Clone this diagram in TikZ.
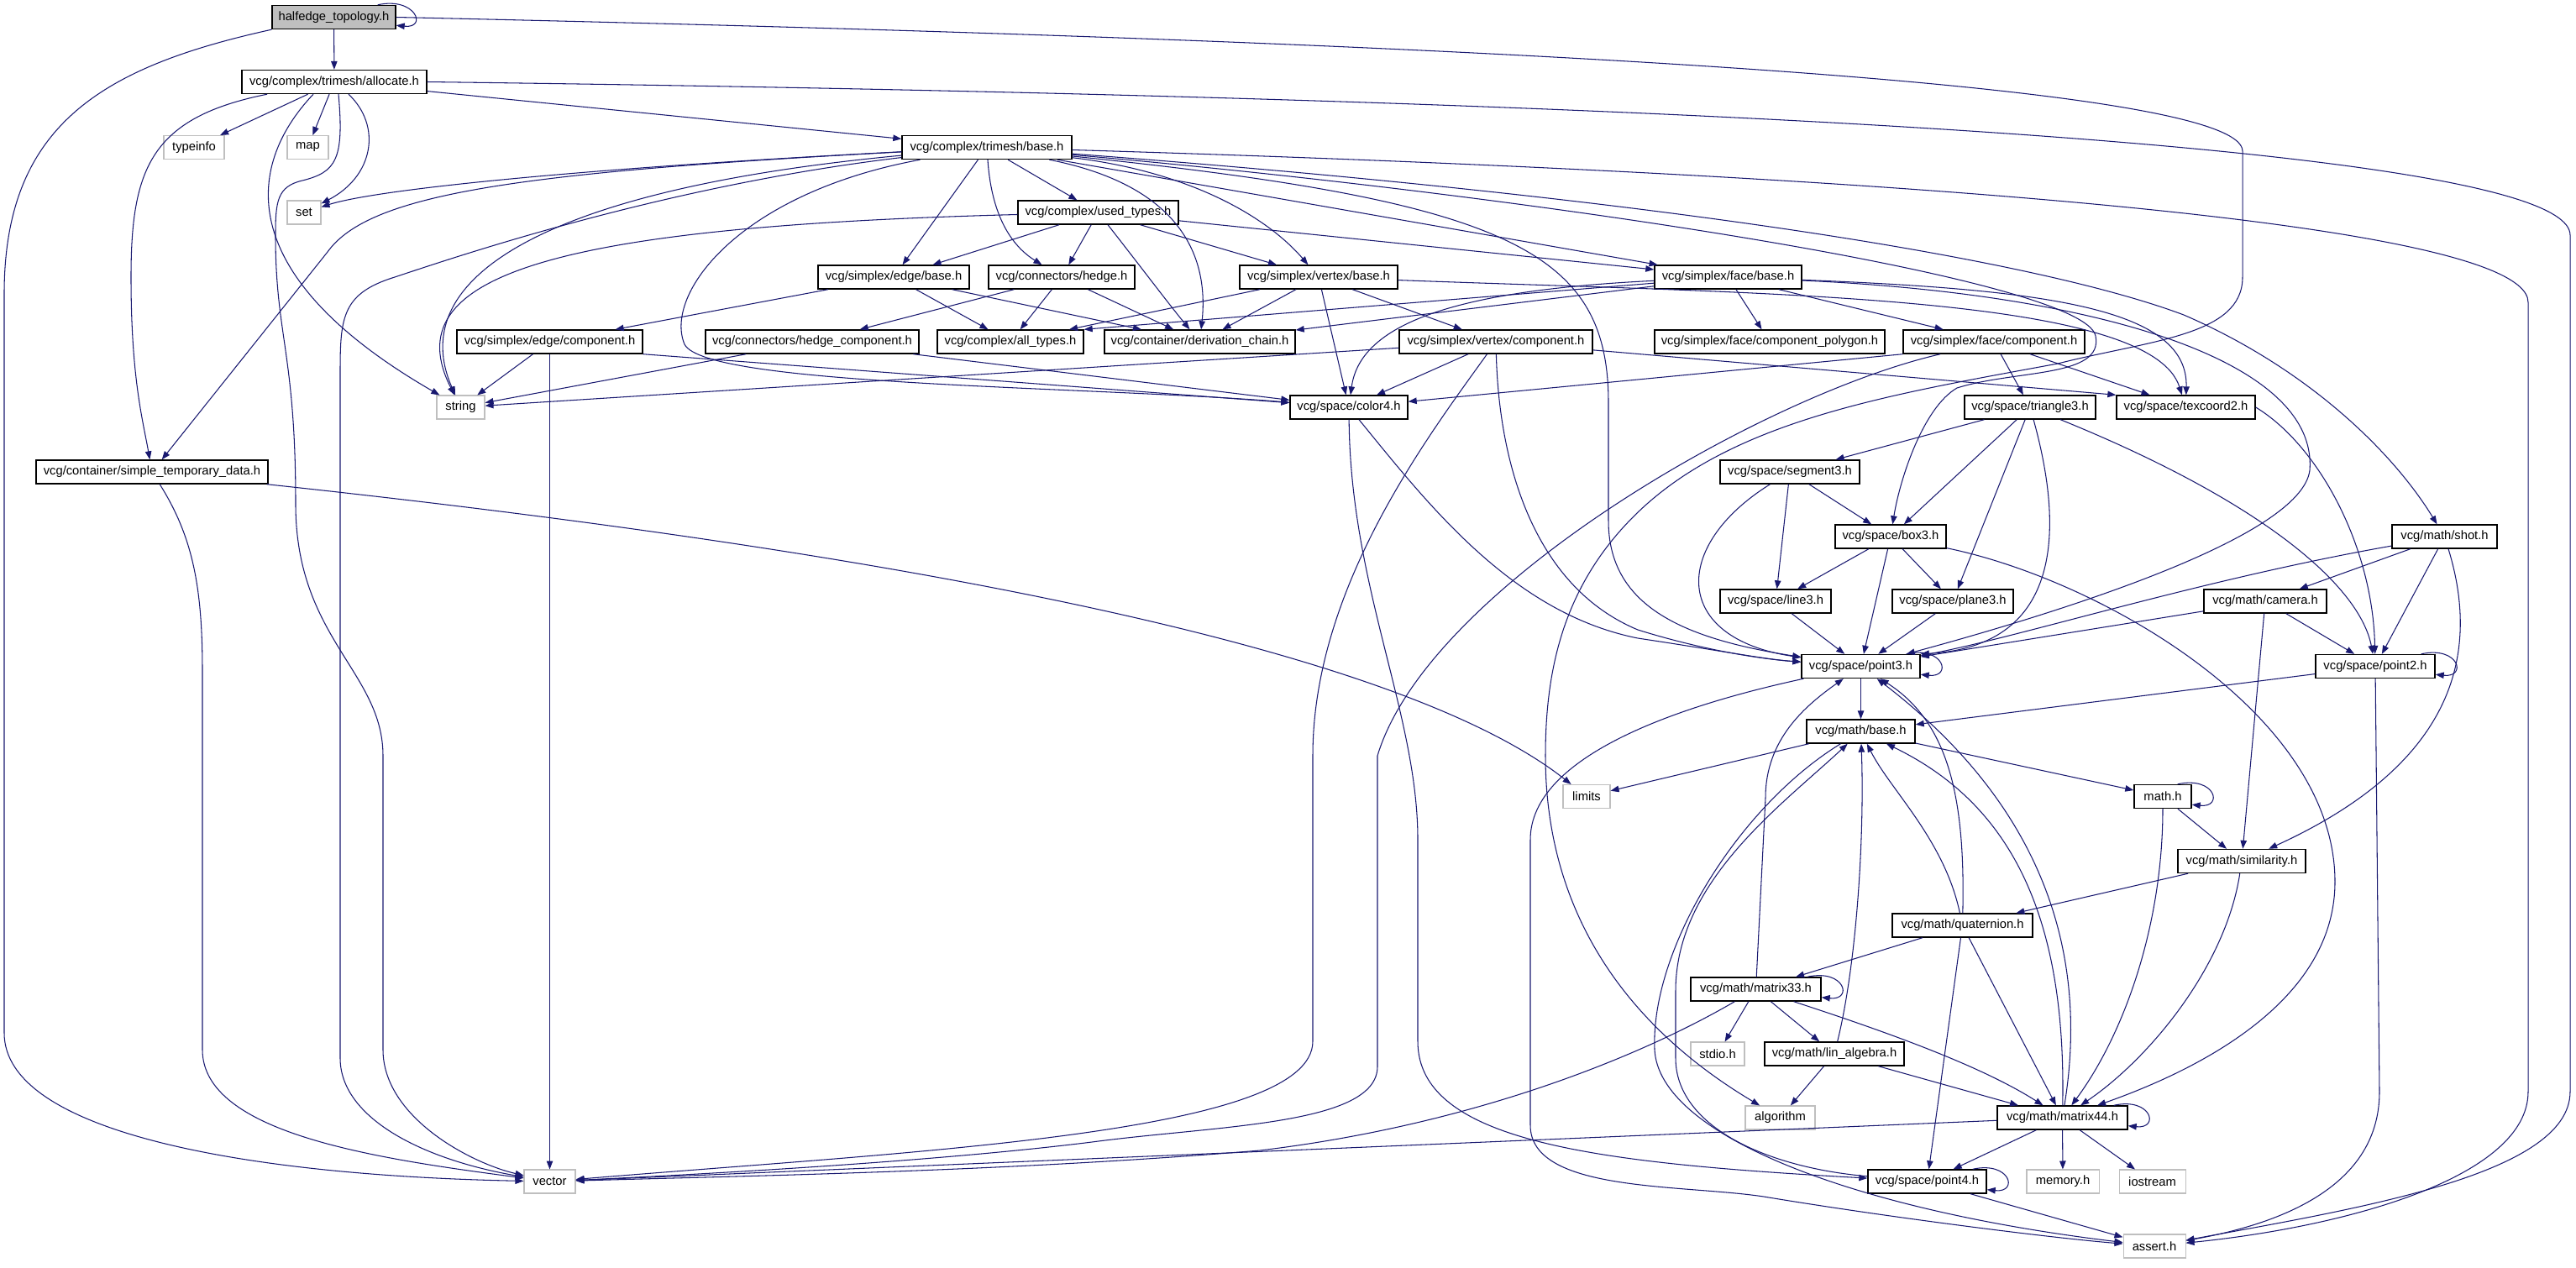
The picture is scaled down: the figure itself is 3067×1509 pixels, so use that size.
\documentclass[tikz,border=0pt]{standalone}
\usepackage{fontspec}
\setmainfont{Liberation Sans}
\usepackage{tikz}
\usetikzlibrary{arrows.meta}
\usepackage{xcolor}
\definecolor{depblue}{HTML}{191970}
\definecolor{sysgray}{HTML}{BFBFBF}

\begin{document}
\begin{tikzpicture}[x=0.02cm, y=-0.02cm,
    hdr/.style={draw=black, line width=0.8pt, fill=white, inner sep=0pt,
        minimum height=0.56cm, font=\fontsize{8.4}{9}\selectfont},
    sys/.style={hdr, draw=sysgray, line width=0.6pt},
    wd/.style={minimum width=#1*0.02cm},
    dep/.style={draw=depblue, line width=0.6pt,
        -{Triangle[length=0.2cm, width=0.15cm]}}]

    \useasboundingbox (0,0) rectangle (3067,1509);

    % top of the graph
    \node[hdr, wd=147, fill=sysgray] (halfedge) at (397.5,20.5) {halfedge\_topology.h};
    \node[hdr, wd=220] (allocate) at (398,97.5) {vcg/complex/trimesh/allocate.h};
    \node[sys, wd=72] (typeinfo) at (231,175.5) {typeinfo};
    \node[sys, wd=49] (map) at (366.5,175.5) {map};
    \node[hdr, wd=202] (trimeshbase) at (1175,175.5) {vcg/complex/trimesh/base.h};
    \node[sys, wd=40] (set) at (362,253) {set};
    \node[hdr, wd=191] (usedtypes) at (1307.5,253) {vcg/complex/used\_types.h};

    % simplex and connector headers
    \node[hdr, wd=180] (edgebase) at (1064,330) {vcg/simplex/edge/base.h};
    \node[hdr, wd=174] (hedge) at (1264,330) {vcg/connectors/hedge.h};
    \node[hdr, wd=188] (vertexbase) at (1570,330) {vcg/simplex/vertex/base.h};
    \node[hdr, wd=175] (facebase) at (2057.5,330) {vcg/simplex/face/base.h};
    \node[hdr, wd=221] (edgecomp) at (654.5,407) {vcg/simplex/edge/component.h};
    \node[hdr, wd=254] (hedgecomp) at (967,407) {vcg/connectors/hedge\_component.h};
    \node[hdr, wd=174] (alltypes) at (1203,407) {vcg/complex/all\_types.h};
    \node[hdr, wd=227] (derivchain) at (1428.5,407) {vcg/container/derivation\_chain.h};
    \node[hdr, wd=230] (vertexcomp) at (1781,407) {vcg/simplex/vertex/component.h};
    \node[hdr, wd=274] (facepoly) at (2107,407) {vcg/simplex/face/component\_polygon.h};
    \node[hdr, wd=216] (facecomp) at (2374,407) {vcg/simplex/face/component.h};

    % space headers
    \node[sys, wd=57] (string) at (548.5,485) {string};
    \node[hdr, wd=140] (color4) at (1606,485) {vcg/space/color4.h};
    \node[hdr, wd=156] (triangle3) at (2417,485) {vcg/space/triangle3.h};
    \node[hdr, wd=165] (texcoord2) at (2602.5,485) {vcg/space/texcoord2.h};
    \node[hdr, wd=276] (simpletemp) at (181,562) {vcg/container/simple\_temporary\_data.h};
    \node[hdr, wd=166] (segment3) at (2131,562) {vcg/space/segment3.h};
    \node[hdr, wd=132] (box3) at (2251,639) {vcg/space/box3.h};
    \node[hdr, wd=125] (shot) at (2910.5,639) {vcg/math/shot.h};
    \node[hdr, wd=132] (line3) at (2114,716) {vcg/space/line3.h};
    \node[hdr, wd=144] (plane3) at (2325,716) {vcg/space/plane3.h};
    \node[hdr, wd=146] (camera) at (2697,716) {vcg/math/camera.h};
    \node[hdr, wd=141] (point3) at (2215.5,793.5) {vcg/space/point3.h};
    \node[hdr, wd=142] (point2) at (2828,793.5) {vcg/space/point2.h};

    % math headers
    \node[hdr, wd=129] (mathbase) at (2215.5,871) {vcg/math/base.h};
    \node[sys, wd=56] (limits) at (1889,948.5) {limits};
    \node[hdr, wd=68] (mathh) at (2575,948.5) {math.h};
    \node[hdr, wd=152] (similarity) at (2669,1025.5) {vcg/math/similarity.h};
    \node[hdr, wd=167] (quaternion) at (2336.5,1102) {vcg/math/quaternion.h};
    \node[hdr, wd=155] (matrix33) at (2090.5,1178) {vcg/math/matrix33.h};
    \node[sys, wd=64] (stdio) at (2045,1255) {stdio.h};
    \node[hdr, wd=166] (linalg) at (2184,1255) {vcg/math/lin\_algebra.h};
    \node[sys, wd=83] (algorithm) at (2119.5,1331) {algorithm};
    \node[hdr, wd=155] (matrix44) at (2455.5,1331) {vcg/math/matrix44.h};
    \node[sys, wd=61] (vector) at (654.5,1407) {vector};
    \node[hdr, wd=141] (point4) at (2294.5,1407) {vcg/space/point4.h};
    \node[sys, wd=86] (memoryh) at (2456,1407) {memory.h};
    \node[sys, wd=79] (iostream) at (2562.5,1407) {iostream};
    \node[sys, wd=74] (asserth) at (2565,1484) {assert.h};

    % includes of halfedge_topology.h
    \draw[dep] ([xshift=-0.44cm]halfedge.north east) .. controls +(45,-10) and +(38,4) .. ([yshift=0.1cm]halfedge.south east);
    \draw[dep] (halfedge) -- (allocate);
    \draw[dep] (halfedge.south west) .. controls (120,80) and (5,150) .. (5,350) -- (5,1230) .. controls (5,1350) and (300,1400) .. (vector);
    \draw[dep] (halfedge.east) .. controls (1800,50) and (2670,100) .. (2670,180) -- (2670,330) .. controls (2670,400) and (2560,405) .. (2450,433) .. controls (2250,470) and (2060,500) .. (1945,615) .. controls (1860,700) and (1840,800) .. (1840,900) .. controls (1840,1100) and (1950,1230) .. (algorithm);

    % includes of allocate.h
    \draw[dep] (allocate) -- (typeinfo);
    \draw[dep] (allocate) -- (map);
    \draw[dep] ([xshift=0.34cm]allocate.south) .. controls (455,150) and (445,210) .. (set);
    \draw[dep] ([xshift=-0.5cm]allocate.south) .. controls (290,200) and (280,330) .. (string);
    \draw[dep] ([xshift=0.1cm]allocate.south) .. controls (410,190) and (400,205) .. (360,215) .. controls (330,222) and (328,240) .. (328,280) .. controls (328,400) and (352,420) .. (352,600) .. controls (352,760) and (456,800) .. (456,900) -- (456,1250) .. controls (456,1330) and (560,1385) .. (vector);
    \draw[dep] ([xshift=-1.6cm]allocate.south) .. controls (180,140) and (156,200) .. (156,330) .. controls (156,450) and (170,500) .. (simpletemp);
    \draw[dep] (allocate) -- (trimeshbase);
    \draw[dep] (allocate.east) .. controls (1500,110) and (3060,150) .. (3060,280) -- (3060,1300) .. controls (3060,1400) and (2800,1440) .. (asserth);

    % includes of trimesh/base.h
    \draw[dep] (trimeshbase) .. controls (700,200) and (450,225) .. (set);
    \draw[dep] (trimeshbase) .. controls (620,205) and (440,230) .. (390,300) -- (simpletemp);
    \draw[dep] (trimeshbase) .. controls (650,225) and (480,330) .. (string);
    \draw[dep] (trimeshbase) .. controls (800,220) and (560,300) .. (470,330) .. controls (405,350) and (405,380) .. (405,450) -- (405,1260) .. controls (405,1330) and (500,1380) .. (vector);
    \draw[dep] (trimeshbase) .. controls (880,230) and (790,350) .. (815,410) .. controls (840,460) and (1300,460) .. (color4);
    \draw[dep] (trimeshbase) -- (edgebase);
    \draw[dep] (trimeshbase) .. controls (1180,250) and (1200,290) .. (hedge);
    \draw[dep] (trimeshbase) -- (usedtypes);
    \draw[dep] (trimeshbase) .. controls (1400,220) and (1440,300) .. (derivchain);
    \draw[dep] (trimeshbase) .. controls (1420,205) and (1510,260) .. (vertexbase);
    \draw[dep] (trimeshbase) -- (facebase);
    \draw[dep] (trimeshbase) .. controls (1800,230) and (2480,330) .. (2495,400) .. controls (2505,450) and (2400,440) .. (2330,462) .. controls (2290,485) and (2262,570) .. (box3);
    \draw[dep] (trimeshbase) .. controls (1900,230) and (2400,300) .. (2600,375) .. controls (2750,440) and (2850,540) .. (shot);
    \draw[dep] (trimeshbase) .. controls (2000,200) and (3010,250) .. (3010,360) -- (3010,1300) .. controls (3010,1400) and (2800,1460) .. (asserth);
    \draw[dep] (trimeshbase) .. controls (1800,240) and (1915,300) .. (1915,480) -- (1915,620) .. controls (1915,720) and (2000,760) .. (point3);

    % includes of used_types.h
    \draw[dep] (usedtypes) -- (edgebase);
    \draw[dep] (usedtypes) -- (hedge);
    \draw[dep] (usedtypes) .. controls (1360,320) and (1390,360) .. (derivchain);
    \draw[dep] (usedtypes) -- (vertexbase);
    \draw[dep] (usedtypes) -- (facebase);
    \draw[dep] (usedtypes) .. controls (650,270) and (470,330) .. (string);

    % includes of the simplex and connector headers
    \draw[dep] (edgebase) -- (edgecomp);
    \draw[dep] (edgebase) -- (alltypes);
    \draw[dep] (edgebase) -- (derivchain);
    \draw[dep] (hedge) -- (hedgecomp);
    \draw[dep] (hedge) -- (alltypes);
    \draw[dep] (hedge) -- (derivchain);
    \draw[dep] (vertexbase) -- (alltypes);
    \draw[dep] (vertexbase) -- (derivchain);
    \draw[dep] (vertexbase) -- (vertexcomp);
    \draw[dep] (vertexbase) -- (color4);
    \draw[dep] (vertexbase) .. controls (2100,350) and (2560,350) .. (texcoord2);
    \draw[dep] (facebase) -- (alltypes.north east);
    \draw[dep] (facebase) -- (derivchain);
    \draw[dep] (facebase) .. controls (1750,345) and (1620,380) .. (color4);
    \draw[dep] (facebase) -- (facepoly);
    \draw[dep] (facebase) -- (facecomp);
    \draw[dep] (facebase) .. controls (2450,345) and (2605,370) .. (texcoord2);
    \draw[dep] (facebase) .. controls (2500,350) and (2760,430) .. (2750,560) .. controls (2740,640) and (2450,730) .. (point3);

    % includes of the component headers
    \draw[dep] (edgecomp) -- (string);
    \draw[dep] (edgecomp) -- (vector);
    \draw[dep] (edgecomp.south east) -- (color4);
    \draw[dep] (hedgecomp) -- (string);
    \draw[dep] (hedgecomp) -- (color4);
    \draw[dep] (vertexcomp) -- (string);
    \draw[dep] (vertexcomp) -- (color4);
    \draw[dep] (vertexcomp) -- (texcoord2.north west);
    \draw[dep] (vertexcomp) .. controls (1700,520) and (1563,700) .. (1563,900) -- (1563,1240) .. controls (1563,1350) and (1100,1370) .. (vector);
    \draw[dep] (vertexcomp) .. controls (1785,560) and (1830,700) .. (1950,750) .. controls (2030,775) and (2100,785) .. (point3);
    \draw[dep] (facecomp.south west) -- (color4);
    \draw[dep] (facecomp) -- (triangle3);
    \draw[dep] (facecomp) -- (texcoord2);
    \draw[dep] (facecomp) .. controls (2100,470) and (1700,700) .. (1640,900) -- (1640,1270) .. controls (1640,1340) and (1450,1340) .. (1300,1360) .. controls (1100,1385) and (800,1400) .. (vector);

    % includes of the space headers
    \draw[dep] (color4) .. controls (1700,600) and (1800,730) .. (1950,760) .. controls (2050,775) and (2100,785) .. (point3);
    \draw[dep] (color4) .. controls (1608,700) and (1688,850) .. (1688,1000) -- (1688,1240) .. controls (1688,1360) and (1900,1385) .. (point4);
    \draw[dep] (triangle3) -- (segment3);
    \draw[dep] (triangle3) -- (box3);
    \draw[dep] (triangle3) -- (plane3);
    \draw[dep] (triangle3) .. controls (2460,640) and (2450,770) .. (point3.north east);
    \draw[dep] (triangle3) .. controls (2700,600) and (2810,700) .. (point2);
    \draw[dep] (texcoord2.east) .. controls (2760,530) and (2825,650) .. (point2);
    \draw[dep] (segment3) -- (box3);
    \draw[dep] (segment3) -- (line3);
    \draw[dep] (segment3) .. controls (1990,650) and (1990,760) .. (point3);
    \draw[dep] (box3) -- (line3);
    \draw[dep] (box3) -- (plane3);
    \draw[dep] (box3) -- (point3);
    \draw[dep] (box3) .. controls (2500,690) and (2780,850) .. (2780,1050) .. controls (2780,1200) and (2600,1280) .. (matrix44);
    \draw[dep] (line3) -- (point3);
    \draw[dep] (plane3) -- (point3);

    % includes of shot.h and camera.h
    \draw[dep] (shot) .. controls (2620,690) and (2400,760) .. (point3);
    \draw[dep] (shot) -- (camera);
    \draw[dep] (shot) -- (point2);
    \draw[dep] (shot) .. controls (2960,800) and (2900,920) .. (similarity);
    \draw[dep] (camera) -- (point3);
    \draw[dep] (camera) -- (point2);
    \draw[dep] (camera) -- (similarity);

    % includes of the point headers
    \draw[dep] ([xshift=-0.34cm]point3.north east) .. controls +(45,-10) and +(38,4) .. ([yshift=0.1cm]point3.south east);
    \draw[dep] (point3) -- (mathbase);
    \draw[dep] (point3) .. controls (2000,840) and (1822,900) .. (1822,1000) -- (1822,1340) .. controls (1822,1420) and (2000,1410) .. (2100,1425) .. controls (2250,1450) and (2450,1475) .. (asserth);
    \draw[dep] ([xshift=-0.34cm]point2.north east) .. controls +(45,-10) and +(38,4) .. ([yshift=0.1cm]point2.south east);
    \draw[dep] (point2) -- (mathbase);
    \draw[dep] (point2) -- (2833,1300) .. controls (2833,1420) and (2700,1460) .. (asserth);
    \draw[dep] ([xshift=-0.34cm]point4.north east) .. controls +(45,-10) and +(38,4) .. ([yshift=0.1cm]point4.south east);
    \draw[dep] (point4) -- (asserth);
    \draw[dep] (point4) .. controls (2100,1390) and (1995,1340) .. (1995,1260) -- (1995,1180) .. controls (1995,1050) and (2120,960) .. (mathbase);

    % includes of math/base.h and math.h
    \draw[dep] (mathbase) -- (limits);
    \draw[dep] (mathbase) -- (mathh);
    \draw[dep] (mathbase) .. controls (2070,960) and (1965,1130) .. (1970,1250) .. controls (1975,1350) and (2200,1440) .. (asserth);
    \draw[dep] ([xshift=-0.34cm]mathh.north east) .. controls +(45,-10) and +(38,4) .. ([yshift=0.1cm]mathh.south east);
    \draw[dep] (mathh) -- (similarity);
    \draw[dep] (mathh) .. controls (2575,1100) and (2530,1230) .. (matrix44);

    % includes of the matrix and quaternion headers
    \draw[dep] (similarity) -- (quaternion);
    \draw[dep] (similarity) .. controls (2650,1150) and (2560,1260) .. (matrix44);
    \draw[dep] (quaternion) -- (matrix33);
    \draw[dep] (quaternion) -- (point4);
    \draw[dep] (quaternion) -- (matrix44);
    \draw[dep] (quaternion) .. controls (2315,1000) and (2250,940) .. (mathbase);
    \draw[dep] (quaternion) .. controls (2340,950) and (2320,860) .. (point3);
    \draw[dep] ([xshift=-0.34cm]matrix33.north east) .. controls +(45,-10) and +(38,4) .. ([yshift=0.1cm]matrix33.south east);
    \draw[dep] (matrix33) -- (2102,950) .. controls (2102,880) and (2150,840) .. (point3);
    \draw[dep] (matrix33) -- (stdio);
    \draw[dep] (matrix33) -- (linalg);
    \draw[dep] (matrix33) .. controls (2250,1230) and (2360,1270) .. (matrix44);
    \draw[dep] (matrix33) .. controls (1950,1260) and (1750,1340) .. (1500,1370) .. controls (1200,1395) and (900,1400) .. (vector);
    \draw[dep] (linalg) -- (algorithm);
    \draw[dep] (linalg) -- (matrix44);
    \draw[dep] (linalg) .. controls (2210,1150) and (2220,1000) .. (mathbase);
    \draw[dep] ([xshift=-0.34cm]matrix44.north east) .. controls +(45,-10) and +(38,4) .. ([yshift=0.1cm]matrix44.south east);
    \draw[dep] (matrix44) .. controls (2460,1100) and (2400,960) .. (mathbase);
    \draw[dep] (matrix44) .. controls (2490,1120) and (2420,950) .. (point3);
    \draw[dep] (matrix44) -- (point4);
    \draw[dep] (matrix44) -- (memoryh);
    \draw[dep] (matrix44) -- (iostream);
    \draw[dep] (matrix44) -- (vector);

    % includes of simple_temporary_data.h
    \draw[dep] (simpletemp) .. controls (230,640) and (241,700) .. (241,800) -- (241,1250) .. controls (241,1350) and (450,1380) .. (vector);
    \draw[dep] (simpletemp) .. controls (1000,650) and (1650,760) .. (limits);

\end{tikzpicture}
\end{document}
